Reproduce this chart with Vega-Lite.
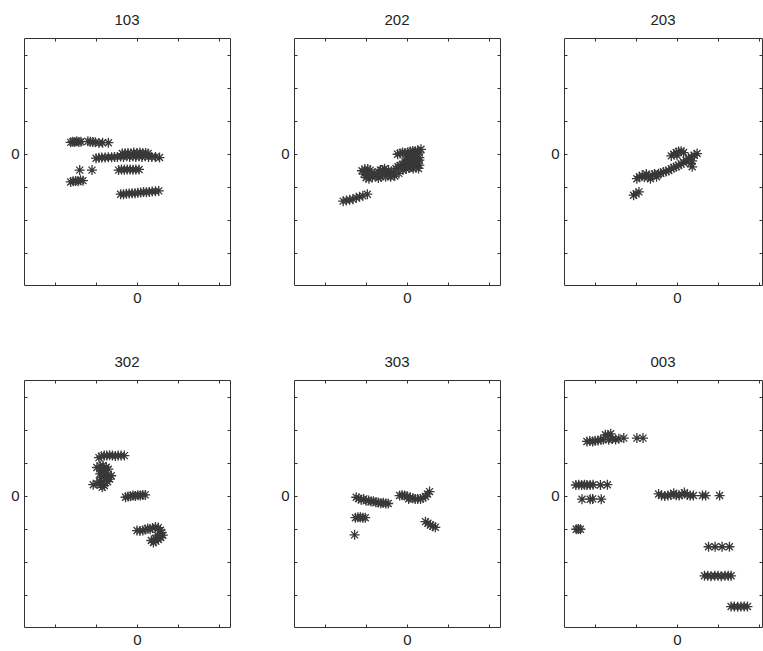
{
  "$schema": "https://vega.github.io/schema/vega-lite/v6.json",
  "background": "white",
  "padding": {"left": 10, "top": 12, "right": 0, "bottom": 5},
  "config": {
    "view": {"stroke": "#333", "strokeWidth": 1},
    "axis": {"domain": false, "grid": false, "tickSize": -3, "tickColor": "#333", "tickWidth": 1, "labelFont": "Liberation Sans", "labelFontSize": 15, "labelColor": "#222", "labelPadding": 8},
    "title": {"font": "Liberation Sans", "fontSize": 15, "fontWeight": "normal", "color": "#222", "offset": 10},
    "point": {"shape": "M-1,0L1,0M0,-1L0,1M-0.7,-0.7L0.7,0.7M-0.7,0.7L0.7,-0.7", "filled": false, "size": 100, "strokeWidth": 1.3, "color": "#383838", "opacity": 1}
  },
  "datasets": {
    "p103": [
      {"x": -1.62, "y": 0.34}, {"x": -1.57, "y": 0.36}, {"x": -1.52, "y": 0.35}, {"x": -1.47, "y": 0.37}, {"x": -1.42, "y": 0.35}, {"x": -1.37, "y": 0.36}, {"x": -1.2, "y": 0.37}, {"x": -1.14, "y": 0.36}, {"x": -1.08, "y": 0.35}, {"x": -1.02, "y": 0.34}, {"x": -0.93, "y": 0.32}, {"x": -0.84, "y": 0.33}, {"x": -0.7, "y": 0.33},
      {"x": -1.0, "y": -0.14}, {"x": -0.93, "y": -0.13}, {"x": -0.86, "y": -0.12}, {"x": -0.78, "y": -0.12}, {"x": -0.7, "y": -0.11}, {"x": -0.62, "y": -0.11}, {"x": -0.55, "y": -0.1}, {"x": -0.48, "y": -0.1}, {"x": -0.4, "y": -0.09}, {"x": -0.33, "y": -0.1}, {"x": -0.25, "y": -0.08}, {"x": -0.18, "y": -0.1}, {"x": -0.1, "y": -0.08}, {"x": -0.03, "y": -0.1}, {"x": 0.05, "y": -0.08}, {"x": 0.12, "y": -0.1}, {"x": 0.2, "y": -0.08}, {"x": 0.28, "y": -0.1}, {"x": 0.36, "y": -0.1}, {"x": 0.45, "y": -0.1}, {"x": 0.55, "y": -0.12},
      {"x": -0.36, "y": 0.0}, {"x": -0.29, "y": 0.01}, {"x": -0.22, "y": 0.02}, {"x": -0.15, "y": 0.0}, {"x": -0.08, "y": 0.03}, {"x": 0.0, "y": 0.02}, {"x": 0.07, "y": 0.03}, {"x": 0.14, "y": 0.01}, {"x": 0.21, "y": 0.02}, {"x": 0.27, "y": 0.0},
      {"x": -0.45, "y": -0.5}, {"x": -0.38, "y": -0.48}, {"x": -0.31, "y": -0.49}, {"x": -0.24, "y": -0.48}, {"x": -0.17, "y": -0.48}, {"x": -0.1, "y": -0.49}, {"x": -0.03, "y": -0.48}, {"x": 0.05, "y": -0.48},
      {"x": -1.4, "y": -0.5}, {"x": -1.1, "y": -0.5},
      {"x": -1.62, "y": -0.86}, {"x": -1.56, "y": -0.84}, {"x": -1.5, "y": -0.83}, {"x": -1.44, "y": -0.84}, {"x": -1.38, "y": -0.81}, {"x": -1.32, "y": -0.82},
      {"x": -0.4, "y": -1.23}, {"x": -0.33, "y": -1.23}, {"x": -0.26, "y": -1.22}, {"x": -0.19, "y": -1.21}, {"x": -0.12, "y": -1.2}, {"x": -0.05, "y": -1.2}, {"x": 0.02, "y": -1.19}, {"x": 0.09, "y": -1.18}, {"x": 0.16, "y": -1.16}, {"x": 0.23, "y": -1.17}, {"x": 0.3, "y": -1.16}, {"x": 0.37, "y": -1.15}, {"x": 0.45, "y": -1.14}, {"x": 0.53, "y": -1.13}
    ],
    "p202": [
      {"x": -1.56, "y": -1.44}, {"x": -1.48, "y": -1.42}, {"x": -1.4, "y": -1.4}, {"x": -1.32, "y": -1.38}, {"x": -1.24, "y": -1.34}, {"x": -1.16, "y": -1.31}, {"x": -1.08, "y": -1.28}, {"x": -0.97, "y": -1.23},
      {"x": -1.1, "y": -0.52}, {"x": -1.03, "y": -0.47}, {"x": -0.96, "y": -0.47}, {"x": -0.9, "y": -0.5}, {"x": -1.05, "y": -0.62}, {"x": -0.97, "y": -0.6}, {"x": -0.9, "y": -0.64}, {"x": -1.0, "y": -0.73}, {"x": -0.93, "y": -0.76}, {"x": -0.85, "y": -0.72}, {"x": -0.8, "y": -0.6}, {"x": -0.76, "y": -0.68}, {"x": -0.7, "y": -0.74}, {"x": -0.64, "y": -0.7},
      {"x": -0.7, "y": -0.55}, {"x": -0.6, "y": -0.62}, {"x": -0.65, "y": -0.5}, {"x": -0.45, "y": -0.5}, {"x": -0.3, "y": -0.68}, {"x": -0.2, "y": -0.6}, {"x": -0.1, "y": -0.5},
      {"x": -0.6, "y": -0.5}, {"x": -0.55, "y": -0.46}, {"x": -0.5, "y": -0.58}, {"x": -0.45, "y": -0.64}, {"x": -0.4, "y": -0.7}, {"x": -0.38, "y": -0.55}, {"x": -0.32, "y": -0.6}, {"x": -0.52, "y": -0.7},
      {"x": -0.27, "y": -0.45}, {"x": -0.22, "y": -0.4}, {"x": -0.17, "y": -0.36}, {"x": -0.11, "y": -0.33}, {"x": -0.05, "y": -0.38}, {"x": -0.02, "y": -0.47}, {"x": 0.05, "y": -0.44}, {"x": 0.1, "y": -0.4}, {"x": 0.15, "y": -0.45}, {"x": 0.22, "y": -0.42}, {"x": 0.28, "y": -0.45}, {"x": 0.3, "y": -0.35}, {"x": 0.25, "y": -0.25}, {"x": 0.15, "y": -0.28}, {"x": 0.05, "y": -0.3}, {"x": -0.05, "y": -0.25}, {"x": 0.2, "y": -0.3}, {"x": 0.3, "y": -0.2},
      {"x": -0.23, "y": -0.02}, {"x": -0.17, "y": 0.0}, {"x": -0.11, "y": 0.03}, {"x": -0.05, "y": 0.02}, {"x": 0.02, "y": 0.04}, {"x": 0.08, "y": 0.06}, {"x": 0.14, "y": 0.08}, {"x": 0.2, "y": 0.07}, {"x": 0.26, "y": 0.09}, {"x": 0.34, "y": 0.13}, {"x": 0.3, "y": -0.12}, {"x": 0.22, "y": -0.16}, {"x": 0.14, "y": -0.18}, {"x": 0.06, "y": -0.2}, {"x": -0.02, "y": -0.22}, {"x": 0.0, "y": -0.08}, {"x": 0.1, "y": -0.1}, {"x": 0.2, "y": -0.02}, {"x": 0.3, "y": 0.02}
    ],
    "p203": [
      {"x": -1.06, "y": -1.26}, {"x": -1.0, "y": -1.22}, {"x": -0.93, "y": -1.16}, {"x": -0.98, "y": -0.76}, {"x": -0.92, "y": -0.7},
      {"x": -0.85, "y": -0.66}, {"x": -0.8, "y": -0.72}, {"x": -0.75, "y": -0.62}, {"x": -0.7, "y": -0.7}, {"x": -0.65, "y": -0.76}, {"x": -0.6, "y": -0.66}, {"x": -0.55, "y": -0.62}, {"x": -0.5, "y": -0.7}, {"x": -0.45, "y": -0.61}, {"x": -0.4, "y": -0.6}, {"x": -0.33, "y": -0.56}, {"x": -0.27, "y": -0.54}, {"x": -0.2, "y": -0.51}, {"x": -0.14, "y": -0.46}, {"x": -0.08, "y": -0.42}, {"x": -0.02, "y": -0.4}, {"x": 0.04, "y": -0.35}, {"x": 0.1, "y": -0.32}, {"x": 0.16, "y": -0.27}, {"x": 0.22, "y": -0.2}, {"x": 0.28, "y": -0.15}, {"x": 0.33, "y": -0.3}, {"x": 0.37, "y": -0.4}, {"x": 0.35, "y": -0.1}, {"x": 0.42, "y": -0.05}, {"x": 0.49, "y": 0.0}, {"x": 0.37, "y": -0.22},
      {"x": -0.14, "y": -0.07}, {"x": -0.08, "y": -0.02}, {"x": -0.02, "y": 0.03}, {"x": 0.04, "y": 0.06}, {"x": 0.1, "y": 0.07}, {"x": 0.16, "y": 0.03}, {"x": 0.0, "y": -0.05}
    ],
    "p302": [
      {"x": -0.93, "y": 1.15}, {"x": -0.87, "y": 1.19}, {"x": -0.8, "y": 1.21}, {"x": -0.74, "y": 1.21}, {"x": -0.67, "y": 1.22}, {"x": -0.6, "y": 1.21}, {"x": -0.53, "y": 1.2}, {"x": -0.46, "y": 1.21}, {"x": -0.39, "y": 1.21}, {"x": -0.31, "y": 1.21},
      {"x": -0.98, "y": 0.85}, {"x": -0.9, "y": 0.9}, {"x": -0.83, "y": 0.91}, {"x": -0.75, "y": 0.86}, {"x": -0.7, "y": 0.8}, {"x": -0.88, "y": 0.76}, {"x": -0.8, "y": 0.72}, {"x": -0.9, "y": 0.66}, {"x": -0.78, "y": 0.62}, {"x": -0.7, "y": 0.64}, {"x": -0.63, "y": 0.6}, {"x": -0.86, "y": 0.55}, {"x": -0.75, "y": 0.52}, {"x": -0.67, "y": 0.5}, {"x": -0.92, "y": 0.44}, {"x": -0.82, "y": 0.42}, {"x": -0.72, "y": 0.42}, {"x": -0.98, "y": 0.36}, {"x": -0.88, "y": 0.32}, {"x": -0.8, "y": 0.3}, {"x": -1.07, "y": 0.33}, {"x": -0.85, "y": 0.25},
      {"x": -0.28, "y": -0.05}, {"x": -0.22, "y": -0.03}, {"x": -0.16, "y": -0.02}, {"x": -0.1, "y": 0.0}, {"x": -0.04, "y": -0.01}, {"x": 0.02, "y": 0.01}, {"x": 0.08, "y": 0.0}, {"x": 0.14, "y": 0.02}, {"x": 0.2, "y": 0.02},
      {"x": 0.0, "y": -1.06}, {"x": 0.07, "y": -1.07}, {"x": 0.14, "y": -1.06}, {"x": 0.2, "y": -1.03}, {"x": 0.26, "y": -1.0}, {"x": 0.32, "y": -1.02}, {"x": 0.38, "y": -0.98}, {"x": 0.45, "y": -0.95}, {"x": 0.52, "y": -0.97}, {"x": 0.57, "y": -1.05}, {"x": 0.6, "y": -1.12}, {"x": 0.63, "y": -1.2}, {"x": 0.58, "y": -1.27}, {"x": 0.52, "y": -1.33}, {"x": 0.46, "y": -1.38}, {"x": 0.4, "y": -1.42}, {"x": 0.35, "y": -1.36}, {"x": 0.45, "y": -1.3}, {"x": 0.5, "y": -1.2}
    ],
    "p303": [
      {"x": -1.24, "y": -0.05}, {"x": -1.18, "y": -0.09}, {"x": -1.12, "y": -0.13}, {"x": -1.06, "y": -0.1}, {"x": -1.0, "y": -0.16}, {"x": -0.94, "y": -0.15}, {"x": -0.88, "y": -0.18}, {"x": -0.82, "y": -0.17}, {"x": -0.76, "y": -0.2}, {"x": -0.7, "y": -0.21}, {"x": -0.64, "y": -0.23}, {"x": -0.58, "y": -0.22}, {"x": -0.52, "y": -0.24}, {"x": -0.46, "y": -0.24},
      {"x": -1.26, "y": -0.67}, {"x": -1.2, "y": -0.66}, {"x": -1.14, "y": -0.66}, {"x": -1.08, "y": -0.67}, {"x": -1.02, "y": -0.67},
      {"x": -1.28, "y": -1.19},
      {"x": -0.18, "y": 0.0}, {"x": -0.12, "y": 0.01}, {"x": -0.06, "y": 0.0}, {"x": 0.0, "y": -0.02}, {"x": 0.04, "y": -0.1}, {"x": 0.08, "y": -0.06}, {"x": 0.14, "y": -0.08}, {"x": 0.2, "y": -0.1}, {"x": 0.26, "y": -0.1}, {"x": 0.33, "y": -0.1}, {"x": 0.39, "y": -0.07}, {"x": 0.45, "y": -0.03}, {"x": 0.5, "y": 0.05}, {"x": 0.55, "y": 0.12},
      {"x": 0.45, "y": -0.79}, {"x": 0.51, "y": -0.84}, {"x": 0.57, "y": -0.89}, {"x": 0.63, "y": -0.93}, {"x": 0.69, "y": -0.96}
    ],
    "p003": [
      {"x": -2.2, "y": 1.64}, {"x": -2.13, "y": 1.65}, {"x": -2.06, "y": 1.64}, {"x": -2.0, "y": 1.66}, {"x": -1.93, "y": 1.67}, {"x": -1.86, "y": 1.69}, {"x": -1.8, "y": 1.7}, {"x": -1.75, "y": 1.84}, {"x": -1.68, "y": 1.83}, {"x": -1.62, "y": 1.87}, {"x": -1.67, "y": 1.69}, {"x": -1.58, "y": 1.71}, {"x": -1.5, "y": 1.7}, {"x": -1.42, "y": 1.72}, {"x": -1.3, "y": 1.74}, {"x": -0.98, "y": 1.74}, {"x": -0.83, "y": 1.74},
      {"x": -2.47, "y": 0.32}, {"x": -2.4, "y": 0.33}, {"x": -2.33, "y": 0.32}, {"x": -2.26, "y": 0.33}, {"x": -2.2, "y": 0.32}, {"x": -2.12, "y": 0.32}, {"x": -2.05, "y": 0.33}, {"x": -1.87, "y": 0.32}, {"x": -1.7, "y": 0.33},
      {"x": -2.32, "y": -0.11}, {"x": -2.12, "y": -0.11}, {"x": -2.06, "y": -0.1}, {"x": -1.85, "y": -0.11},
      {"x": -2.46, "y": -1.02}, {"x": -2.41, "y": -1.01}, {"x": -2.36, "y": -1.02},
      {"x": -0.45, "y": 0.05}, {"x": -0.38, "y": 0.0}, {"x": -0.3, "y": -0.01}, {"x": -0.22, "y": 0.0}, {"x": -0.15, "y": 0.02}, {"x": -0.08, "y": 0.07}, {"x": -0.02, "y": 0.01}, {"x": 0.05, "y": 0.0}, {"x": 0.12, "y": 0.04}, {"x": 0.18, "y": 0.09}, {"x": 0.25, "y": 0.02}, {"x": 0.32, "y": 0.0}, {"x": 0.4, "y": 0.0}, {"x": 0.62, "y": 0.0}, {"x": 0.7, "y": 0.0}, {"x": 1.04, "y": 0.0},
      {"x": 0.77, "y": -1.55}, {"x": 0.93, "y": -1.55}, {"x": 1.1, "y": -1.55}, {"x": 1.28, "y": -1.55},
      {"x": 0.67, "y": -2.43}, {"x": 0.75, "y": -2.43}, {"x": 0.83, "y": -2.44}, {"x": 0.92, "y": -2.43}, {"x": 1.0, "y": -2.43}, {"x": 1.08, "y": -2.44}, {"x": 1.17, "y": -2.43}, {"x": 1.25, "y": -2.43}, {"x": 1.32, "y": -2.43},
      {"x": 1.32, "y": -3.36}, {"x": 1.4, "y": -3.36}, {"x": 1.48, "y": -3.37}, {"x": 1.56, "y": -3.36}, {"x": 1.64, "y": -3.36}, {"x": 1.72, "y": -3.36}
    ]
  },
  "columns": 3,
  "spacing": {"row": 95, "column": 64},
  "bounds": "flush",
  "concat": [
    {
      "title": "103", "width": 206, "height": 247, "data": {"name": "p103"},
      "layer": [
        {"mark": {"type": "point"}, "encoding": {
          "x": {"field": "x", "type": "quantitative", "title": null, "scale": {"domain": [-2.76, 2.27], "nice": false, "zero": false}, "axis": {"orient": "bottom", "values": [-2, -1, 0, 1, 2], "labelExpr": "datum.value === 0 ? '0' : ''"}},
          "y": {"field": "y", "type": "quantitative", "title": null, "scale": {"domain": [-3.98, 3.5], "nice": false, "zero": false}, "axis": {"orient": "left", "values": [-3, -2, -1, 0, 1, 2, 3], "labelExpr": "datum.value === 0 ? '0' : ''"}}}},
        {"mark": {"type": "point", "opacity": 0}, "encoding": {
          "x": {"field": "x", "type": "quantitative", "title": null, "axis": {"orient": "top", "values": [-2, -1, 0, 1, 2], "labels": false}},
          "y": {"field": "y", "type": "quantitative", "title": null, "axis": {"orient": "right", "values": [-3, -2, -1, 0, 1, 2, 3], "labels": false}}}}
      ],
      "resolve": {"axis": {"x": "independent", "y": "independent"}}
    },
    {
      "title": "202", "width": 206, "height": 247, "data": {"name": "p202"},
      "layer": [
        {"mark": {"type": "point"}, "encoding": {
          "x": {"field": "x", "type": "quantitative", "title": null, "scale": {"domain": [-2.76, 2.27], "nice": false, "zero": false}, "axis": {"orient": "bottom", "values": [-2, -1, 0, 1, 2], "labelExpr": "datum.value === 0 ? '0' : ''"}},
          "y": {"field": "y", "type": "quantitative", "title": null, "scale": {"domain": [-3.98, 3.5], "nice": false, "zero": false}, "axis": {"orient": "left", "values": [-3, -2, -1, 0, 1, 2, 3], "labelExpr": "datum.value === 0 ? '0' : ''"}}}},
        {"mark": {"type": "point", "opacity": 0}, "encoding": {
          "x": {"field": "x", "type": "quantitative", "title": null, "axis": {"orient": "top", "values": [-2, -1, 0, 1, 2], "labels": false}},
          "y": {"field": "y", "type": "quantitative", "title": null, "axis": {"orient": "right", "values": [-3, -2, -1, 0, 1, 2, 3], "labels": false}}}}
      ],
      "resolve": {"axis": {"x": "independent", "y": "independent"}}
    },
    {
      "title": "203", "width": 198, "height": 247, "data": {"name": "p203"},
      "layer": [
        {"mark": {"type": "point"}, "encoding": {
          "x": {"field": "x", "type": "quantitative", "title": null, "scale": {"domain": [-2.76, 2.075], "nice": false, "zero": false}, "axis": {"orient": "bottom", "values": [-2, -1, 0, 1, 2], "labelExpr": "datum.value === 0 ? '0' : ''"}},
          "y": {"field": "y", "type": "quantitative", "title": null, "scale": {"domain": [-3.98, 3.5], "nice": false, "zero": false}, "axis": {"orient": "left", "values": [-3, -2, -1, 0, 1, 2, 3], "labelExpr": "datum.value === 0 ? '0' : ''"}}}},
        {"mark": {"type": "point", "opacity": 0}, "encoding": {
          "x": {"field": "x", "type": "quantitative", "title": null, "axis": {"orient": "top", "values": [-2, -1, 0, 1, 2], "labels": false}},
          "y": {"field": "y", "type": "quantitative", "title": null, "axis": {"orient": "right", "values": [-3, -2, -1, 0, 1, 2, 3], "labels": false}}}}
      ],
      "resolve": {"axis": {"x": "independent", "y": "independent"}}
    },
    {
      "title": "302", "width": 206, "height": 247, "data": {"name": "p302"},
      "layer": [
        {"mark": {"type": "point"}, "encoding": {
          "x": {"field": "x", "type": "quantitative", "title": null, "scale": {"domain": [-2.76, 2.27], "nice": false, "zero": false}, "axis": {"orient": "bottom", "values": [-2, -1, 0, 1, 2], "labelExpr": "datum.value === 0 ? '0' : ''"}},
          "y": {"field": "y", "type": "quantitative", "title": null, "scale": {"domain": [-3.98, 3.5], "nice": false, "zero": false}, "axis": {"orient": "left", "values": [-3, -2, -1, 0, 1, 2, 3], "labelExpr": "datum.value === 0 ? '0' : ''"}}}},
        {"mark": {"type": "point", "opacity": 0}, "encoding": {
          "x": {"field": "x", "type": "quantitative", "title": null, "axis": {"orient": "top", "values": [-2, -1, 0, 1, 2], "labels": false}},
          "y": {"field": "y", "type": "quantitative", "title": null, "axis": {"orient": "right", "values": [-3, -2, -1, 0, 1, 2, 3], "labels": false}}}}
      ],
      "resolve": {"axis": {"x": "independent", "y": "independent"}}
    },
    {
      "title": "303", "width": 206, "height": 247, "data": {"name": "p303"},
      "layer": [
        {"mark": {"type": "point"}, "encoding": {
          "x": {"field": "x", "type": "quantitative", "title": null, "scale": {"domain": [-2.76, 2.27], "nice": false, "zero": false}, "axis": {"orient": "bottom", "values": [-2, -1, 0, 1, 2], "labelExpr": "datum.value === 0 ? '0' : ''"}},
          "y": {"field": "y", "type": "quantitative", "title": null, "scale": {"domain": [-3.98, 3.5], "nice": false, "zero": false}, "axis": {"orient": "left", "values": [-3, -2, -1, 0, 1, 2, 3], "labelExpr": "datum.value === 0 ? '0' : ''"}}}},
        {"mark": {"type": "point", "opacity": 0}, "encoding": {
          "x": {"field": "x", "type": "quantitative", "title": null, "axis": {"orient": "top", "values": [-2, -1, 0, 1, 2], "labels": false}},
          "y": {"field": "y", "type": "quantitative", "title": null, "axis": {"orient": "right", "values": [-3, -2, -1, 0, 1, 2, 3], "labels": false}}}}
      ],
      "resolve": {"axis": {"x": "independent", "y": "independent"}}
    },
    {
      "title": "003", "width": 198, "height": 247, "data": {"name": "p003"},
      "layer": [
        {"mark": {"type": "point"}, "encoding": {
          "x": {"field": "x", "type": "quantitative", "title": null, "scale": {"domain": [-2.76, 2.075], "nice": false, "zero": false}, "axis": {"orient": "bottom", "values": [-2, -1, 0, 1, 2], "labelExpr": "datum.value === 0 ? '0' : ''"}},
          "y": {"field": "y", "type": "quantitative", "title": null, "scale": {"domain": [-3.98, 3.5], "nice": false, "zero": false}, "axis": {"orient": "left", "values": [-3, -2, -1, 0, 1, 2, 3], "labelExpr": "datum.value === 0 ? '0' : ''"}}}},
        {"mark": {"type": "point", "opacity": 0}, "encoding": {
          "x": {"field": "x", "type": "quantitative", "title": null, "axis": {"orient": "top", "values": [-2, -1, 0, 1, 2], "labels": false}},
          "y": {"field": "y", "type": "quantitative", "title": null, "axis": {"orient": "right", "values": [-3, -2, -1, 0, 1, 2, 3], "labels": false}}}}
      ],
      "resolve": {"axis": {"x": "independent", "y": "independent"}}
    }
  ]
}
